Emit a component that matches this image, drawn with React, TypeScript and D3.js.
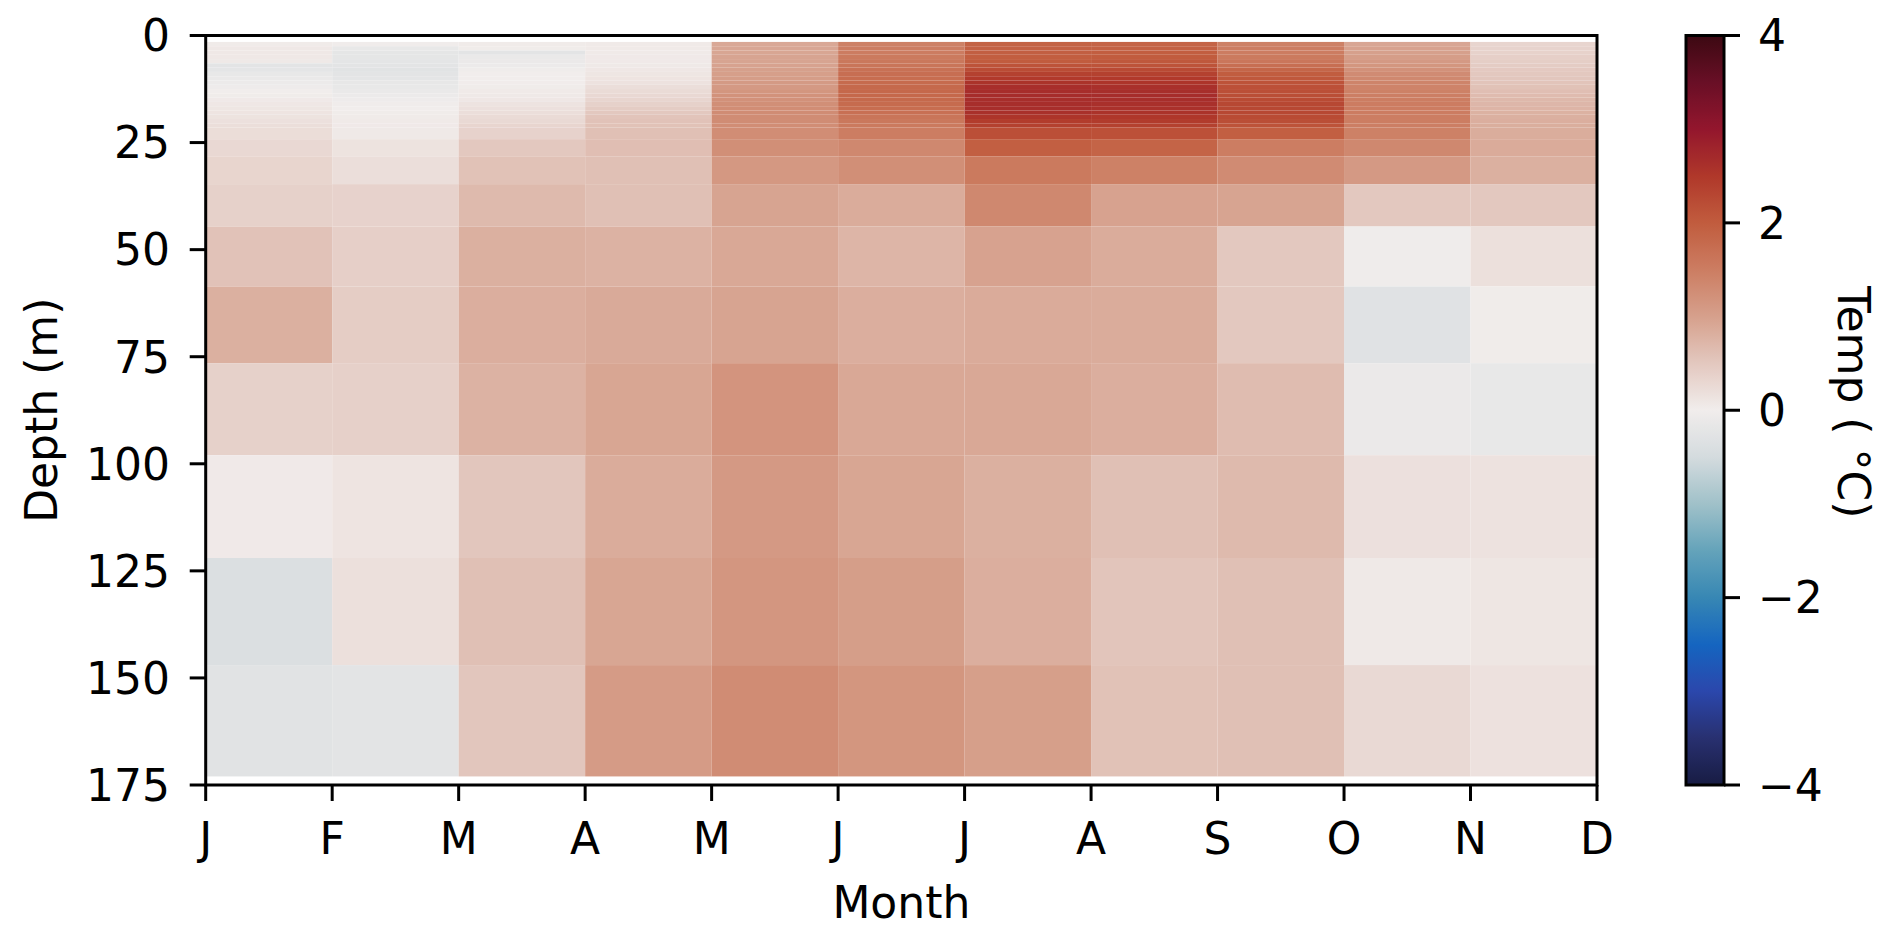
import React from "react";
import * as d3 from "d3";

// Month tick labels (column edges)
const monthLabels = ["J", "F", "M", "A", "M", "J", "J", "A", "S", "O", "N", "D"];

// Depth edges of the rows (m)
const depthEdges = [
  1.5, 2.5, 3.5, 4.5, 5.5, 6.5, 7.5, 8.5, 9.5, 10.5, 11.5, 12.5, 13.5, 14.5, 15.5,
  16.5, 17.5, 18.5, 19.5, 20.5, 21.5, 24.2, 28.2, 34.7, 44.6, 58.6, 76.5, 98, 122, 147, 173,
];

const depthTicks = [0, 25, 50, 75, 100, 125, 150, 175];
const colorbarTicks = [-4, -2, 0, 2, 4];

// Temperature anomaly (°C) per column (month interval), top row to bottom row
const janFeb = [0.03, 0.07, 0.07, 0.07, 0.06, -0.25, -0.22, -0.15, -0.12, -0.08, -0.05, 0.0, 0.02, 0.05, 0.08, 0.1, 0.12, 0.14, 0.17, 0.2, 0.22, 0.28, 0.33, 0.38, 0.57, 0.8, 0.38, 0.05, -0.38, -0.27];
const febMar = [-0.02, -0.15, -0.2, -0.2, -0.22, -0.25, -0.27, -0.25, -0.22, -0.18, -0.15, -0.12, -0.08, -0.05, -0.02, 0.0, 0.02, 0.03, 0.04, 0.05, 0.06, 0.14, 0.2, 0.36, 0.4, 0.43, 0.39, 0.12, 0.18, -0.25];
const marApr = [0.03, 0.02, -0.25, -0.12, -0.1, -0.08, -0.03, 0.0, 0.0, 0.01, 0.02, 0.04, 0.06, 0.08, 0.13, 0.17, 0.2, 0.25, 0.27, 0.32, 0.36, 0.5, 0.58, 0.68, 0.8, 0.82, 0.77, 0.52, 0.6, 0.52];
const aprMay = [0.04, 0.04, 0.04, 0.05, 0.05, 0.06, 0.08, 0.1, 0.12, 0.15, 0.2, 0.24, 0.28, 0.32, 0.38, 0.45, 0.5, 0.55, 0.57, 0.58, 0.6, 0.62, 0.6, 0.6, 0.77, 0.87, 0.93, 0.85, 0.93, 1.07];
const mayJun = [0.9, 0.92, 0.93, 0.95, 0.95, 0.97, 1.0, 1.02, 1.05, 1.08, 1.1, 1.15, 1.2, 1.22, 1.25, 1.27, 1.28, 1.28, 1.28, 1.27, 1.27, 1.25, 1.12, 0.95, 0.9, 0.95, 1.17, 1.1, 1.14, 1.28];
const junJul = [1.45, 1.5, 1.52, 1.55, 1.58, 1.62, 1.68, 1.72, 1.75, 1.78, 1.8, 1.82, 1.82, 1.8, 1.78, 1.75, 1.7, 1.62, 1.58, 1.55, 1.5, 1.35, 1.25, 0.85, 0.74, 0.82, 0.9, 0.93, 1.03, 1.15];
const julAug = [1.9, 1.92, 1.95, 1.97, 2.0, 2.12, 2.22, 2.38, 2.48, 2.58, 2.64, 2.66, 2.68, 2.65, 2.65, 2.65, 2.62, 2.56, 2.45, 2.38, 2.18, 1.95, 1.55, 1.35, 0.97, 0.86, 0.9, 0.8, 0.82, 1.02];
const augSep = [1.88, 1.92, 1.97, 2.0, 2.05, 2.12, 2.25, 2.38, 2.48, 2.56, 2.62, 2.65, 2.67, 2.65, 2.62, 2.6, 2.58, 2.52, 2.46, 2.38, 2.16, 1.88, 1.45, 0.97, 0.85, 0.85, 0.82, 0.6, 0.54, 0.58];
const sepOct = [1.45, 1.5, 1.52, 1.55, 1.6, 1.72, 1.85, 1.98, 2.06, 2.12, 2.16, 2.18, 2.2, 2.24, 2.28, 2.28, 2.28, 2.24, 2.2, 2.12, 1.95, 1.5, 1.3, 0.95, 0.5, 0.5, 0.65, 0.68, 0.6, 0.6];
const octNov = [0.92, 0.97, 1.0, 1.05, 1.1, 1.15, 1.22, 1.3, 1.35, 1.4, 1.42, 1.45, 1.48, 1.5, 1.52, 1.52, 1.52, 1.5, 1.5, 1.48, 1.45, 1.35, 1.1, 0.5, -0.03, -0.3, -0.1, 0.17, 0.06, 0.27];
const novDec = [0.32, 0.35, 0.37, 0.4, 0.42, 0.45, 0.48, 0.5, 0.52, 0.55, 0.58, 0.62, 0.66, 0.7, 0.72, 0.75, 0.78, 0.8, 0.82, 0.83, 0.84, 0.86, 0.8, 0.5, 0.18, 0.02, -0.15, 0.15, 0.1, 0.16];

const columns = [janFeb, febMar, marApr, aprMay, mayJun, junJul, julAug, augSep, sepOct, octNov, novDec];

// Diverging colormap anchors (cmocean "balance"-like)
const cmapValues = [-4, -3.5, -3, -2.5, -2, -1.5, -1, -0.5, 0, 0.5, 1, 1.5, 2, 2.5, 3, 3.5, 4];
const cmapColors = [
  "rgb(24,28,67)", "rgb(40,48,112)", "rgb(43,71,172)", "rgb(21,101,192)", "rgb(55,135,180)",
  "rgb(100,163,186)", "rgb(160,193,201)", "rgb(212,219,222)", "rgb(241,237,236)",
  "rgb(227,200,191)", "rgb(214,160,140)", "rgb(204,125,98)", "rgb(193,92,62)",
  "rgb(176,56,42)", "rgb(147,22,45)", "rgb(105,15,38)", "rgb(60,9,18)",
];

const W = 1892;
const H = 938;
const plot = { left: 205.7, right: 1597, top: 35.5, bottom: 785 };
const cbar = { left: 1686, right: 1724 };
const FONT = "DejaVu Sans, sans-serif";
const FS = 44;

export default function App() {
  const x = d3.scaleLinear().domain([0, 11]).range([plot.left, plot.right]);
  const y = d3.scaleLinear().domain([0, 175]).range([plot.top, plot.bottom]);
  const color = d3
    .scaleLinear<string>()
    .domain(cmapValues)
    .range(cmapColors)
    .interpolate(d3.interpolateRgb)
    .clamp(true);
  const cy = d3.scaleLinear().domain([-4, 4]).range([plot.bottom, plot.top]);

  const cells: JSX.Element[] = [];
  columns.forEach((col, ci) => {
    col.forEach((v, ri) => {
      const y0 = y(depthEdges[ri]);
      const y1 = y(depthEdges[ri + 1]);
      cells.push(
        <rect
          key={`${ci}-${ri}`}
          x={x(ci)}
          y={y0}
          width={x(ci + 1) - x(ci)}
          height={y1 - y0}
          fill={color(v)}
        />
      );
    });
  });

  const gradStops = d3.range(0, 81).map((i) => {
    const v = -4 + i * 0.1;
    return <stop key={i} offset={`${(i / 80) * 100}%`} stopColor={color(v)} />;
  });

  return (
    <svg
      width={W}
      height={H}
      style={{ position: "fixed", left: 0, top: 0, background: "white" }}
      fontFamily={FONT}
    >
      <defs>
        <linearGradient id="cb" x1="0" y1="1" x2="0" y2="0">
          {gradStops}
        </linearGradient>
      </defs>
      <rect x={0} y={0} width={W} height={H} fill="white" />
      <g>{cells}</g>
      {/* frame */}
      <rect
        x={plot.left}
        y={plot.top}
        width={plot.right - plot.left}
        height={plot.bottom - plot.top}
        fill="none"
        stroke="black"
        strokeWidth={3}
      />
      {/* y ticks */}
      {depthTicks.map((t) => (
        <g key={`yt${t}`}>
          <line x1={plot.left - 16} x2={plot.left} y1={y(t)} y2={y(t)} stroke="black" strokeWidth={3} />
          <text x={170} y={y(t)} dy="0.36em" textAnchor="end" fontSize={FS}>
            {t}
          </text>
        </g>
      ))}
      {/* x ticks */}
      {monthLabels.map((m, i) => (
        <g key={`xt${i}`}>
          <line x1={x(i)} x2={x(i)} y1={plot.bottom} y2={plot.bottom + 16} stroke="black" strokeWidth={3} />
          <text x={x(i)} y={854} textAnchor="middle" fontSize={FS}>
            {m}
          </text>
        </g>
      ))}
      <text x={(plot.left + plot.right) / 2} y={918} textAnchor="middle" fontSize={FS}>
        Month
      </text>
      <text
        transform={`translate(57,${(plot.top + plot.bottom) / 2}) rotate(-90)`}
        textAnchor="middle"
        fontSize={FS}
      >
        Depth (m)
      </text>
      {/* colorbar */}
      <rect
        x={cbar.left}
        y={plot.top}
        width={cbar.right - cbar.left}
        height={plot.bottom - plot.top}
        fill="url(#cb)"
        stroke="black"
        strokeWidth={3}
      />
      {colorbarTicks.map((t) => (
        <g key={`ct${t}`}>
          <line x1={cbar.right} x2={cbar.right + 16} y1={cy(t)} y2={cy(t)} stroke="black" strokeWidth={3} />
          <text x={1758} y={cy(t)} dy="0.36em" textAnchor="start" fontSize={FS}>
            {t < 0 ? `\u2212${Math.abs(t)}` : `${t}`}
          </text>
        </g>
      ))}
      <text
        transform={`translate(1838,${(plot.top + plot.bottom) / 2 - 8}) rotate(90)`}
        textAnchor="middle"
        fontSize={FS}
      >
        Temp ( °C)
      </text>
    </svg>
  );
}
